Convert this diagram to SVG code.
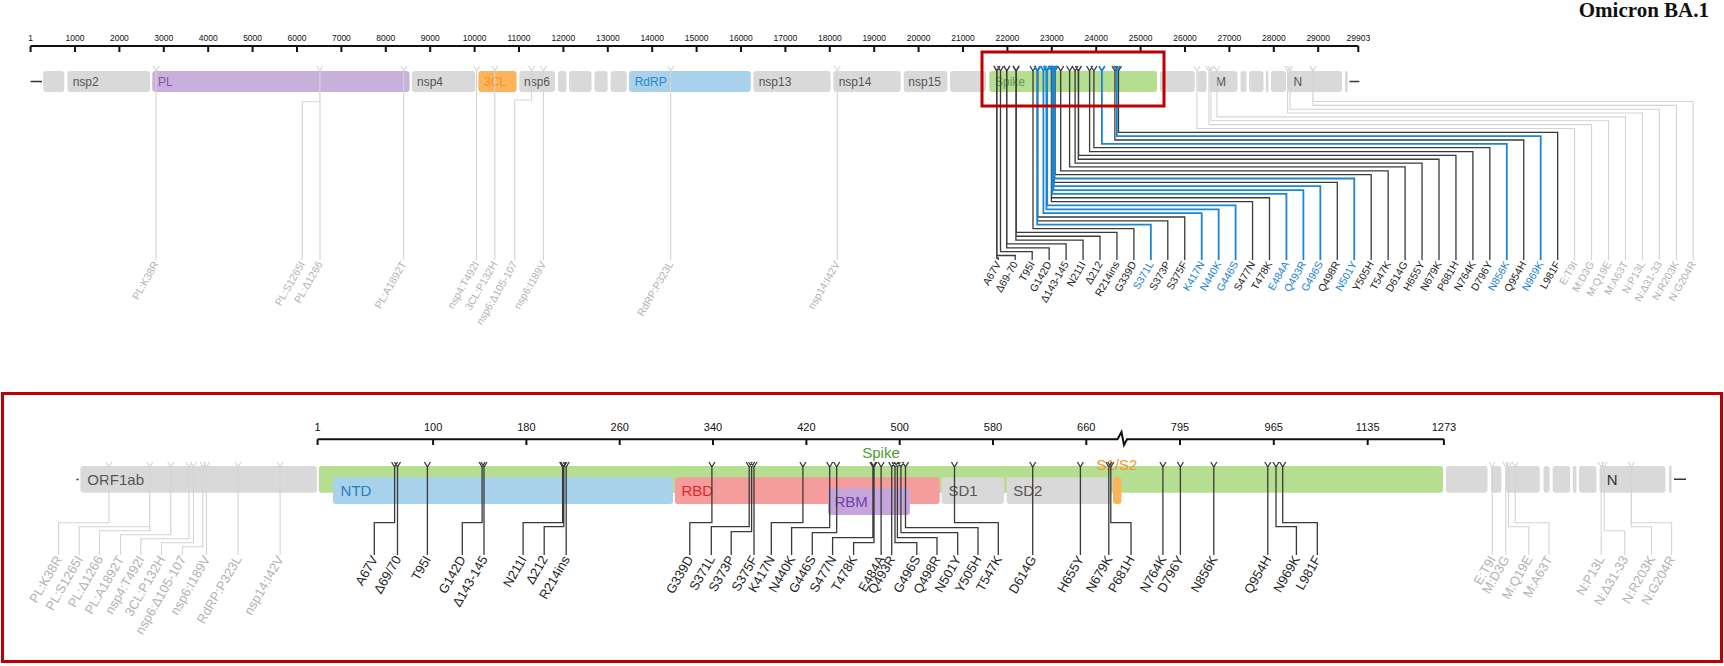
<svg xmlns="http://www.w3.org/2000/svg" width="1724" height="666" viewBox="0 0 1724 666">
<style>
text{font-family:"Liberation Sans",Arial,sans-serif}
.title{font-family:"Liberation Serif","Times New Roman",serif;font-weight:bold;font-size:21px;fill:#111;text-anchor:end}
.tk{font-size:8.5px;fill:#111;text-anchor:middle}
.tkb{font-size:11px;fill:#111;text-anchor:middle}
.rl{stroke:#111;stroke-width:2;fill:none}
.seg{fill:#d9d9d9}
.sl{font-size:12px;fill:#555}
.bl{font-size:15px;fill:#555}
.mt{font-size:10.5px;text-anchor:end}
.mb{font-size:13px;text-anchor:end}
.k{fill:#1e1e1e}
.b{fill:#1a7fcf}
.g{fill:#b2b2b2}
.ck{stroke:#3a3a3a;stroke-width:1.3;fill:none}
.cb{stroke:#1b86d2;stroke-width:1.8;fill:none}
.cg{stroke:#d4d4d4;stroke-width:1.1;fill:none}
.box{fill:none;stroke:#c00000;stroke-width:3}
</style>
<rect width="1724" height="666" fill="#fff"/>
<text class="title" x="1709" y="17">Omicron BA.1</text>

<!-- top ruler -->
<g id="ruler-top">
<path class="rl" d="M30.6,46H1358.3M30.6,46V52M75,46V52M119.4,46V52M163.8,46V52M208.2,46V52M252.6,46V52M297,46V52M341.4,46V52M385.8,46V52M430.2,46V52M474.6,46V52M519,46V52M563.4,46V52M607.8,46V52M652.2,46V52M696.6,46V52M741,46V52M785.4,46V52M829.8,46V52M874.2,46V52M918.6,46V52M963,46V52M1007.4,46V52M1051.8,46V52M1096.2,46V52M1140.6,46V52M1185,46V52M1229.4,46V52M1273.8,46V52M1318.2,46V52M1358.3,46V52"/>
<text class="tk" x="30.6" y="40.5">1</text><text class="tk" x="75" y="40.5">1000</text><text class="tk" x="119.4" y="40.5">2000</text><text class="tk" x="163.8" y="40.5">3000</text><text class="tk" x="208.2" y="40.5">4000</text><text class="tk" x="252.6" y="40.5">5000</text><text class="tk" x="297" y="40.5">6000</text><text class="tk" x="341.4" y="40.5">7000</text><text class="tk" x="385.8" y="40.5">8000</text><text class="tk" x="430.2" y="40.5">9000</text><text class="tk" x="474.6" y="40.5">10000</text><text class="tk" x="519" y="40.5">11000</text><text class="tk" x="563.4" y="40.5">12000</text><text class="tk" x="607.8" y="40.5">13000</text><text class="tk" x="652.2" y="40.5">14000</text><text class="tk" x="696.6" y="40.5">15000</text><text class="tk" x="741" y="40.5">16000</text><text class="tk" x="785.4" y="40.5">17000</text><text class="tk" x="829.8" y="40.5">18000</text><text class="tk" x="874.2" y="40.5">19000</text><text class="tk" x="918.6" y="40.5">20000</text><text class="tk" x="963" y="40.5">21000</text><text class="tk" x="1007.4" y="40.5">22000</text><text class="tk" x="1051.8" y="40.5">23000</text><text class="tk" x="1096.2" y="40.5">24000</text><text class="tk" x="1140.6" y="40.5">25000</text><text class="tk" x="1185" y="40.5">26000</text><text class="tk" x="1229.4" y="40.5">27000</text><text class="tk" x="1273.8" y="40.5">28000</text><text class="tk" x="1318.2" y="40.5">29000</text><text class="tk" x="1358.3" y="40.5">29903</text>
</g>

<!-- top genome -->
<g id="genome-top">
<path d="M30.6,81.5H42M1349.5,81.5H1359.3" stroke="#333" stroke-width="1.6"/>
<g id="t-nsp1"><rect class="seg" x="43.2" y="71" width="21.1" height="21" rx="3"/></g>
<g id="t-nsp2"><rect class="seg" x="67.4" y="71" width="82.6" height="21" rx="3"/><text class="sl" x="72.7" y="86">nsp2</text></g>
<g id="t-PL"><rect x="152.3" y="71" width="257.2" height="21" rx="3" fill="#c8b0dc"/><text class="sl" x="158" y="86" style="fill:#8456ae">PL</text></g>
<g id="t-nsp4"><rect class="seg" x="411.8" y="71" width="63.5" height="21" rx="3"/><text class="sl" x="417" y="86">nsp4</text></g>
<g id="t-3CL"><rect x="478.4" y="71" width="38.2" height="21" rx="3" fill="#fbb45c"/><text class="sl" x="484" y="86" style="fill:#f7931e">3CL</text></g>
<g id="t-nsp6"><rect class="seg" x="519.3" y="71" width="35.7" height="21" rx="3"/><text class="sl" x="524" y="86">nsp6</text></g>
<g id="t-nsp7"><rect class="seg" x="558" y="71" width="8.4" height="21" rx="3"/></g>
<g id="t-nsp8"><rect class="seg" x="569" y="71" width="22.5" height="21" rx="3"/></g>
<g id="t-nsp9"><rect class="seg" x="594.5" y="71" width="13.1" height="21" rx="3"/></g>
<g id="t-nsp10"><rect class="seg" x="610.6" y="71" width="16.1" height="21" rx="3"/></g>
<g id="t-RdRP"><rect x="629" y="71" width="121.7" height="21" rx="3" fill="#a8d1ec"/><text class="sl" x="634.7" y="86" style="fill:#2e86c8">RdRP</text></g>
<g id="t-nsp13"><rect class="seg" x="753.4" y="71" width="77.3" height="21" rx="3"/><text class="sl" x="758.7" y="86">nsp13</text></g>
<g id="t-nsp14"><rect class="seg" x="833.3" y="71" width="67.4" height="21" rx="3"/><text class="sl" x="838.7" y="86">nsp14</text></g>
<g id="t-nsp15"><rect class="seg" x="903.7" y="71" width="43.7" height="21" rx="3"/><text class="sl" x="908.3" y="86">nsp15</text></g>
<g id="t-nsp16"><rect class="seg" x="950" y="71" width="36" height="21" rx="3"/></g>
<g id="t-Spike"><rect x="989.3" y="71" width="167.7" height="21" rx="3" fill="#b5de90"/><text class="sl" x="995" y="86" style="fill:#6b9a45">Spike</text></g>
<g id="t-ORF3a"><rect class="seg" x="1160" y="71" width="34.7" height="21" rx="3"/></g>
<g id="t-E"><rect class="seg" x="1197.3" y="71" width="9.2" height="21" rx="3"/></g>
<g id="t-M"><rect class="seg" x="1209.3" y="71" width="28.2" height="21" rx="3"/><text class="sl" x="1215.9" y="86">M</text></g>
<g id="t-ORF6"><rect class="seg" x="1240.5" y="71" width="6" height="21" rx="2.5"/></g>
<g id="t-ORF7a"><rect class="seg" x="1249" y="71" width="14.5" height="21" rx="3"/></g>
<g id="t-ORF7b"><rect class="seg" x="1265.8" y="71" width="2.7" height="21" rx="1"/></g>
<g id="t-ORF8"><rect class="seg" x="1271" y="71" width="15" height="21" rx="3"/></g>
<g id="t-N"><rect class="seg" x="1287.7" y="71" width="54.3" height="21" rx="3"/><text class="sl" x="1293.5" y="86">N</text></g>
<g id="t-ORF10"><rect class="seg" x="1345" y="71" width="2.7" height="21" rx="1"/></g>
</g>

<!-- top connectors -->
<g id="connectors-top">
<path class="cg" d="M153.1,66L156.1,71L159.1,66M156.1,71V260M316.8,66L319.8,71L322.8,66M319.8,71V101.7H302.3V260M320,71V260M400.7,66L403.7,71L406.7,66M403.7,71V260M473.5,66L476.5,71L479.5,66M476.5,71V260M491.8,66L494.8,71L497.8,66M494.8,71V260M528.6,66L531.6,71L534.6,66M531.6,71V100H514.7V260M540.4,66L543.4,71L546.4,66M543.4,71V260M667.7,66L670.7,71L673.7,66M670.7,71V260M834.3,66L837.3,71L840.3,66M837.3,71V260"/>
<path class="cg" d="M1193.9,66L1196.9,71L1199.9,66M1196.9,71V128.45H1574.6V260M1205.9,66L1208.9,71L1211.9,66M1208.9,71V124.6H1591.55V260M1208,66L1211,71L1214,66M1211,71V120.75H1608.5V260M1213.9,66L1216.9,71L1219.9,66M1216.9,71V116.9H1625.45V260M1284.6,66L1287.6,71L1290.6,66M1287.6,71V113.05H1642.4V260M1287,66L1290,71L1293,66M1290,71V109.2H1659.35V260M1309.9,66L1312.9,71L1315.9,66M1312.9,71V105.35H1676.3V260M1310.1,66L1313.1,71L1316.1,66M1313.1,71V101.5H1693.25V260"/>
<path class="ck" d="M993.7,66L996.7,71L999.7,66M996.7,71V258H998.3V260
M994,66L997,71L1000,66M997,71V255.5H1015.25V260
M997.5,66L1000.5,71L1003.5,66M1000.5,71V251.65H1032.2V260
M1003.7,66L1006.7,71L1009.7,66M1006.7,71V247.8H1049.15V260
M1003.9,66L1006.9,71L1009.9,66M1006.9,71V243.95H1066.1V260
M1012.9,66L1015.9,71L1018.9,66M1015.9,71V240.1H1083.05V260
M1013.1,66L1016.1,71L1019.1,66M1016.1,71V236.25H1100V260
M1013.3,66L1016.3,71L1019.3,66M1016.3,71V232.4H1116.95V260
M1030,66L1033,71L1036,66M1033,71V228.55H1133.9V260
M1034.5,66L1037.5,71L1040.5,66M1037.5,71V220.85H1167.8V260
M1034.8,66L1037.8,71L1040.8,66M1037.8,71V217H1184.75V260
M1048.4,66L1051.4,71L1054.4,66M1051.4,71V201.6H1252.55V260
M1048.5,66L1051.5,71L1054.5,66M1051.5,71V197.75H1269.5V260
M1051.2,66L1054.2,71L1057.2,66M1054.2,71V182.35H1337.3V260
M1052.1,66L1055.1,71L1058.1,66M1055.1,71V174.65H1371.2V260
M1057.7,66L1060.7,71L1063.7,66M1060.7,71V170.8H1388.15V260
M1066.6,66L1069.6,71L1072.6,66M1069.6,71V166.95H1405.1V260
M1072.1,66L1075.1,71L1078.1,66M1075.1,71V163.1H1422.05V260
M1075.3,66L1078.3,71L1081.3,66M1078.3,71V159.25H1439V260
M1075.6,66L1078.6,71L1081.6,66M1078.6,71V155.4H1455.95V260
M1086.6,66L1089.6,71L1092.6,66M1089.6,71V151.55H1472.9V260
M1090.9,66L1093.9,71L1096.9,66M1093.9,71V147.7H1489.85V260
M1111.9,66L1114.9,71L1117.9,66M1114.9,71V140H1523.75V260
M1115.5,66L1118.5,71L1121.5,66M1118.5,71V132.3H1557.65V260"/>
<path class="cb" d="M1034.2,66L1037.2,71L1040.2,66M1037.2,71V224.7H1150.85V260
M1040.4,66L1043.4,71L1046.4,66M1043.4,71V213.15H1201.7V260
M1043.4,66L1046.4,71L1049.4,66M1046.4,71V209.3H1218.65V260
M1044.2,66L1047.2,71L1050.2,66M1047.2,71V205.45H1235.6V260
M1049.3,66L1052.3,71L1055.3,66M1052.3,71V193.9H1286.45V260
M1050.5,66L1053.5,71L1056.5,66M1053.5,71V190.05H1303.4V260
M1050.9,66L1053.9,71L1056.9,66M1053.9,71V186.2H1320.35V260
M1051.6,66L1054.6,71L1057.6,66M1054.6,71V178.5H1354.25V260
M1098.9,66L1101.9,71L1104.9,66M1101.9,71V143.85H1506.8V260
M1113.9,66L1116.9,71L1119.9,66M1116.9,71V136.15H1540.7V260"/>
</g>
<rect id="focus-box-top" class="box" x="982" y="52" width="182" height="54"/>

<!-- top labels -->
<g id="labels-top">
<text class="mt g" transform="translate(159.1,264) rotate(-60)">PL:K38R</text>
<text class="mt g" transform="translate(305.3,264) rotate(-60)">PL:S1265I</text>
<text class="mt g" transform="translate(323,264) rotate(-60)">PL:Δ1266</text>
<text class="mt g" transform="translate(406.7,264) rotate(-60)">PL:A1892T</text>
<text class="mt g" transform="translate(479.5,264) rotate(-60)">nsp4:T492I</text>
<text class="mt g" transform="translate(497.8,264) rotate(-60)">3CL:P132H</text>
<text class="mt g" transform="translate(517.7,264) rotate(-60)">nsp6:Δ105-107</text>
<text class="mt g" transform="translate(546.4,264) rotate(-60)">nsp6:I189V</text>
<text class="mt g" transform="translate(673.7,264) rotate(-60)">RdRP:P323L</text>
<text class="mt g" transform="translate(840.3,264) rotate(-60)">nsp14:I42V</text>
<text class="mt k" transform="translate(1001.3,264) rotate(-60)">A67V</text>
<text class="mt k" transform="translate(1018.25,264) rotate(-60)">Δ69-70</text>
<text class="mt k" transform="translate(1035.2,264) rotate(-60)">T95I</text>
<text class="mt k" transform="translate(1052.15,264) rotate(-60)">G142D</text>
<text class="mt k" transform="translate(1069.1,264) rotate(-60)">Δ143-145</text>
<text class="mt k" transform="translate(1086.05,264) rotate(-60)">N211I</text>
<text class="mt k" transform="translate(1103,264) rotate(-60)">Δ212</text>
<text class="mt k" transform="translate(1119.95,264) rotate(-60)">R214ins</text>
<text class="mt k" transform="translate(1136.9,264) rotate(-60)">G339D</text>
<text class="mt b" transform="translate(1153.85,264) rotate(-60)">S371L</text>
<text class="mt k" transform="translate(1170.8,264) rotate(-60)">S373P</text>
<text class="mt k" transform="translate(1187.75,264) rotate(-60)">S375F</text>
<text class="mt b" transform="translate(1204.7,264) rotate(-60)">K417N</text>
<text class="mt b" transform="translate(1221.65,264) rotate(-60)">N440K</text>
<text class="mt b" transform="translate(1238.6,264) rotate(-60)">G446S</text>
<text class="mt k" transform="translate(1255.55,264) rotate(-60)">S477N</text>
<text class="mt k" transform="translate(1272.5,264) rotate(-60)">T478K</text>
<text class="mt b" transform="translate(1289.45,264) rotate(-60)">E484A</text>
<text class="mt b" transform="translate(1306.4,264) rotate(-60)">Q493R</text>
<text class="mt b" transform="translate(1323.35,264) rotate(-60)">G496S</text>
<text class="mt k" transform="translate(1340.3,264) rotate(-60)">Q498R</text>
<text class="mt b" transform="translate(1357.25,264) rotate(-60)">N501Y</text>
<text class="mt k" transform="translate(1374.2,264) rotate(-60)">Y505H</text>
<text class="mt k" transform="translate(1391.15,264) rotate(-60)">T547K</text>
<text class="mt k" transform="translate(1408.1,264) rotate(-60)">D614G</text>
<text class="mt k" transform="translate(1425.05,264) rotate(-60)">H655Y</text>
<text class="mt k" transform="translate(1442,264) rotate(-60)">N679K</text>
<text class="mt k" transform="translate(1458.95,264) rotate(-60)">P681H</text>
<text class="mt k" transform="translate(1475.9,264) rotate(-60)">N764K</text>
<text class="mt k" transform="translate(1492.85,264) rotate(-60)">D796Y</text>
<text class="mt b" transform="translate(1509.8,264) rotate(-60)">N856K</text>
<text class="mt k" transform="translate(1526.75,264) rotate(-60)">Q954H</text>
<text class="mt b" transform="translate(1543.7,264) rotate(-60)">N969K</text>
<text class="mt k" transform="translate(1560.65,264) rotate(-60)">L981F</text>
<text class="mt g" transform="translate(1577.6,264) rotate(-60)">E:T9I</text>
<text class="mt g" transform="translate(1594.55,264) rotate(-60)">M:D3G</text>
<text class="mt g" transform="translate(1611.5,264) rotate(-60)">M:Q19E</text>
<text class="mt g" transform="translate(1628.45,264) rotate(-60)">M:A63T</text>
<text class="mt g" transform="translate(1645.4,264) rotate(-60)">N:P13L</text>
<text class="mt g" transform="translate(1662.35,264) rotate(-60)">N:Δ31-33</text>
<text class="mt g" transform="translate(1679.3,264) rotate(-60)">N:R203K</text>
<text class="mt g" transform="translate(1696.25,264) rotate(-60)">N:G204R</text>
</g>

<!-- bottom panel -->
<rect id="focus-box-bottom" class="box" x="2.5" y="393.5" width="1719" height="268"/>

<g id="ruler-bottom">
<path class="rl" d="M317.6,439.3H1117.5L1121.5,432L1124,445L1127,439.3H1443.9M317.6,439.3V445M433.1,439.3V445M526.4,439.3V445M619.7,439.3V445M713,439.3V445M806.4,439.3V445M899.7,439.3V445M993,439.3V445M1086.3,439.3V445M1180,439.3V445M1273.8,439.3V445M1367.7,439.3V445M1443.9,439.3V445"/>
<text class="tkb" x="317.6" y="430.5">1</text><text class="tkb" x="433.1" y="430.5">100</text><text class="tkb" x="526.4" y="430.5">180</text><text class="tkb" x="619.7" y="430.5">260</text><text class="tkb" x="713" y="430.5">340</text><text class="tkb" x="806.4" y="430.5">420</text><text class="tkb" x="899.7" y="430.5">500</text><text class="tkb" x="993" y="430.5">580</text><text class="tkb" x="1086.3" y="430.5">660</text><text class="tkb" x="1180" y="430.5">795</text><text class="tkb" x="1273.8" y="430.5">965</text><text class="tkb" x="1367.7" y="430.5">1135</text><text class="tkb" x="1443.9" y="430.5">1273</text>
</g>

<g id="genome-bottom">
<path d="M76.5,479.5H78.5M1674,479.3H1686" stroke="#333" stroke-width="1.6"/>
<g id="b-ORF1ab"><rect class="seg" x="80.4" y="466" width="236.5" height="26.7" rx="3"/><text class="bl" x="87.3" y="484.5">ORF1ab</text></g>
<g id="b-Spike"><rect x="318.8" y="466" width="1124.2" height="26.7" rx="3" fill="#b5de90"/><text x="881" y="458" font-size="15" text-anchor="middle" fill="#4f9a35">Spike</text></g>
<g id="b-NTD"><rect x="333" y="477.3" width="340" height="26.7" rx="3" fill="#a8d1ec"/><text class="bl" x="340.6" y="496" style="fill:#2a7fc0">NTD</text></g>
<g id="b-RBD"><rect x="674.9" y="477.3" width="264.8" height="26.7" rx="3" fill="#f59c9c"/><text class="bl" x="681.4" y="496" style="fill:#e8262a">RBD</text></g>
<g id="b-RBM"><rect x="828" y="488.3" width="81.9" height="26.7" rx="3" fill="#c5a6dc"/><text class="bl" x="834.5" y="507" style="fill:#7440a8">RBM</text></g>
<g id="b-SD1"><rect class="seg" x="941.6" y="477.3" width="62.4" height="26.7" rx="3"/><text class="bl" x="948.5" y="496">SD1</text></g>
<g id="b-SD2"><rect class="seg" x="1006.7" y="477.3" width="104.5" height="26.7" rx="3"/><text class="bl" x="1013.2" y="496">SD2</text></g>
<g id="b-S1S2"><rect x="1113" y="477.3" width="8.5" height="26.7" rx="3" fill="#fbb45c"/><text x="1096.6" y="470" font-size="15" fill="#f7931e">S1/S2</text></g>
<g id="b-ORF3a"><rect class="seg" x="1445.8" y="466" width="41.7" height="26.7" rx="3"/></g>
<g id="b-E"><rect class="seg" x="1491" y="466" width="10.4" height="26.7" rx="3"/></g>
<g id="b-M"><rect class="seg" x="1505.8" y="466" width="34" height="26.7" rx="3"/></g>
<g id="b-ORF6"><rect class="seg" x="1543.5" y="466" width="6.2" height="26.7" rx="3"/></g>
<g id="b-ORF7a"><rect class="seg" x="1552.6" y="466" width="17.6" height="26.7" rx="3"/></g>
<g id="b-ORF7b"><rect class="seg" x="1572.8" y="466" width="3.6" height="26.7" rx="1.5"/></g>
<g id="b-ORF8"><rect class="seg" x="1579" y="466" width="17.5" height="26.7" rx="3"/></g>
<g id="b-N"><rect class="seg" x="1599.5" y="466" width="65.9" height="26.7" rx="3"/><text class="bl" x="1606.8" y="484.5" style="fill:#333">N</text></g>
<g id="b-ORF10"><rect class="seg" x="1669" y="466" width="2.6" height="26.7" rx="1"/></g>
</g>

<g id="connectors-bottom">
<path class="cg" d="M105.9,462L108.9,467L111.9,462M108.9,467V522.7H58.6V555
M146.8,462L149.8,467L152.8,462M149.8,467V526.7H79.2V555M149.8,467V530.7H99.5V555
M167.7,462L170.7,467L173.7,462M170.7,467V534.7H120.5V555
M185.9,462L188.9,467L191.9,462M188.9,467V538.7H140.8V555
M190.5,462L193.5,467L196.5,462M193.5,467V542.7H161.5V555
M199.8,462L202.8,467L205.8,462M202.8,467V546.7H182.5V555
M203.5,462L206.5,467L209.5,462M206.5,467V555
M235,462L238,467L241,462M238,467V555
M277.1,462L280.1,467L283.1,462M280.1,467V555
M1489.2,462L1492.2,467L1495.2,462M1492.2,467V555
M1502.8,462L1505.8,467L1508.8,462M1505.8,467V555
M1505.5,462L1508.5,467L1511.5,462M1508.5,467V526.7H1528.8V555
M1512.2,462L1515.2,467L1518.2,462M1515.2,467V522.7H1549V555
M1598.2,462L1601.2,467L1604.2,462M1601.2,467V555
M1601.2,462L1604.2,467L1607.2,462M1604.2,467V530.7H1624.7V555
M1628.2,462L1631.2,467L1634.2,462M1631.2,467V526.7H1651.5V555M1631.4,467V522.7H1671.6V555"/>
<path class="ck" d="M391.6,462L394.6,467L397.6,462M394.6,467V522.7H374.3V555
M394.5,462L397.5,467L400.5,462M397.5,467V555
M424.4,462L427.4,467L430.4,462M427.4,467V555
M479.1,462L482.1,467L485.1,462M482.1,467V522.7H462.3V555
M481,462L484,467L487,462M484,467V555
M559.6,462L562.6,467L565.6,462M562.6,467V522.7H523.1V555
M560.8,462L563.8,467L566.8,462M563.8,467V526.7H544.2V555
M563.2,462L566.2,467L569.2,462M566.2,467V555
M708.9,462L711.9,467L714.9,462M711.9,467V522.7H689.8V555
M746.2,462L749.2,467L752.2,462M749.2,467V526.7H711.3V555
M748.6,462L751.6,467L754.6,462M751.6,467V531.7H731.2V555
M751,462L754,467L757,462M754,467V555
M799.9,462L802.9,467L805.9,462M802.9,467V522.7H771.3V555
M826.7,462L829.7,467L832.7,462M829.7,467V527.7H791.6V555
M833.7,462L836.7,467L839.7,462M836.7,467V532.7H812.3V555
M869.9,462L872.9,467L875.9,462M872.9,467V537.7H832.6V555
M871,462L874,467L877,462M874,467V542.7H853.6V555
M878.1,462L881.1,467L884.1,462M881.1,467V555
M888.7,462L891.7,467L894.7,462M891.7,467V555
M892,462L895,467L898,462M895,467V542.7H916.8V555
M894.4,462L897.4,467L900.4,462M897.4,467V537.7H937V555
M897.9,462L900.9,467L903.9,462M900.9,467V532.7H957.7V555
M902.5,462L905.5,467L908.5,462M905.5,467V527.7H978V555
M951.5,462L954.5,467L957.5,462M954.5,467V522.7H998.3V555
M1029.7,462L1032.7,467L1035.7,462M1032.7,467V555
M1077.4,462L1080.4,467L1083.4,462M1080.4,467V555
M1105.8,462L1108.8,467L1111.8,462M1108.8,467V555
M1107.8,462L1110.8,467L1113.8,462M1110.8,467V522.7H1131V555
M1159.9,462L1162.9,467L1165.9,462M1162.9,467V555
M1177.4,462L1180.4,467L1183.4,462M1180.4,467V555
M1210.8,462L1213.8,467L1216.8,462M1213.8,467V555
M1264.8,462L1267.8,467L1270.8,462M1267.8,467V555
M1273,462L1276,467L1279,462M1276,467V526.7H1296.4V555
M1279.7,462L1282.7,467L1285.7,462M1282.7,467V522.7H1317.3V555"/>
</g>

<g id="labels-bottom">
<text class="mb g" transform="translate(62.6,559) rotate(-60)">PL:K38R</text>
<text class="mb g" transform="translate(83.2,559) rotate(-60)">PL:S1265I</text>
<text class="mb g" transform="translate(103.5,559) rotate(-60)">PL:Δ1266</text>
<text class="mb g" transform="translate(124.5,559) rotate(-60)">PL:A1892T</text>
<text class="mb g" transform="translate(144.8,559) rotate(-60)">nsp4:T492I</text>
<text class="mb g" transform="translate(165.5,559) rotate(-60)">3CL:P132H</text>
<text class="mb g" transform="translate(186.5,559) rotate(-60)">nsp6:Δ105-107</text>
<text class="mb g" transform="translate(210.5,559) rotate(-60)">nsp6:I189V</text>
<text class="mb g" transform="translate(242,559) rotate(-60)">RdRP:P323L</text>
<text class="mb g" transform="translate(284.1,559) rotate(-60)">nsp14:I42V</text>
<text class="mb k" transform="translate(378.3,559) rotate(-60)">A67V</text>
<text class="mb k" transform="translate(401.5,559) rotate(-60)">Δ69/70</text>
<text class="mb k" transform="translate(431.4,559) rotate(-60)">T95I</text>
<text class="mb k" transform="translate(466.3,559) rotate(-60)">G142D</text>
<text class="mb k" transform="translate(488,559) rotate(-60)">Δ143-145</text>
<text class="mb k" transform="translate(527.1,559) rotate(-60)">N211I</text>
<text class="mb k" transform="translate(548.2,559) rotate(-60)">Δ212</text>
<text class="mb k" transform="translate(570.2,559) rotate(-60)">R214ins</text>
<text class="mb k" transform="translate(693.8,559) rotate(-60)">G339D</text>
<text class="mb k" transform="translate(715.3,559) rotate(-60)">S371L</text>
<text class="mb k" transform="translate(735.2,559) rotate(-60)">S373P</text>
<text class="mb k" transform="translate(758,559) rotate(-60)">S375F</text>
<text class="mb k" transform="translate(775.3,559) rotate(-60)">K417N</text>
<text class="mb k" transform="translate(795.6,559) rotate(-60)">N440K</text>
<text class="mb k" transform="translate(816.3,559) rotate(-60)">G446S</text>
<text class="mb k" transform="translate(836.6,559) rotate(-60)">S477N</text>
<text class="mb k" transform="translate(857.6,559) rotate(-60)">T478K</text>
<text class="mb k" transform="translate(885.1,559) rotate(-60)">E484A</text>
<text class="mb k" transform="translate(895.7,559) rotate(-60)">Q493R</text>
<text class="mb k" transform="translate(920.8,559) rotate(-60)">G496S</text>
<text class="mb k" transform="translate(941,559) rotate(-60)">Q498R</text>
<text class="mb k" transform="translate(961.7,559) rotate(-60)">N501Y</text>
<text class="mb k" transform="translate(982,559) rotate(-60)">Y505H</text>
<text class="mb k" transform="translate(1002.3,559) rotate(-60)">T547K</text>
<text class="mb k" transform="translate(1036.7,559) rotate(-60)">D614G</text>
<text class="mb k" transform="translate(1084.4,559) rotate(-60)">H655Y</text>
<text class="mb k" transform="translate(1112.8,559) rotate(-60)">N679K</text>
<text class="mb k" transform="translate(1135,559) rotate(-60)">P681H</text>
<text class="mb k" transform="translate(1166.9,559) rotate(-60)">N764K</text>
<text class="mb k" transform="translate(1184.4,559) rotate(-60)">D796Y</text>
<text class="mb k" transform="translate(1217.8,559) rotate(-60)">N856K</text>
<text class="mb k" transform="translate(1271.8,559) rotate(-60)">Q954H</text>
<text class="mb k" transform="translate(1300.4,559) rotate(-60)">N969K</text>
<text class="mb k" transform="translate(1321.3,559) rotate(-60)">L981F</text>
<text class="mb g" transform="translate(1496.2,559) rotate(-60)">E:T9I</text>
<text class="mb g" transform="translate(1509.8,559) rotate(-60)">M:D3G</text>
<text class="mb g" transform="translate(1532.8,559) rotate(-60)">M:Q19E</text>
<text class="mb g" transform="translate(1553,559) rotate(-60)">M:A63T</text>
<text class="mb g" transform="translate(1605.2,559) rotate(-60)">N:P13L</text>
<text class="mb g" transform="translate(1628.7,559) rotate(-60)">N:Δ31-33</text>
<text class="mb g" transform="translate(1655.5,559) rotate(-60)">N:R203K</text>
<text class="mb g" transform="translate(1675.6,559) rotate(-60)">N:G204R</text>
</g>
</svg>
